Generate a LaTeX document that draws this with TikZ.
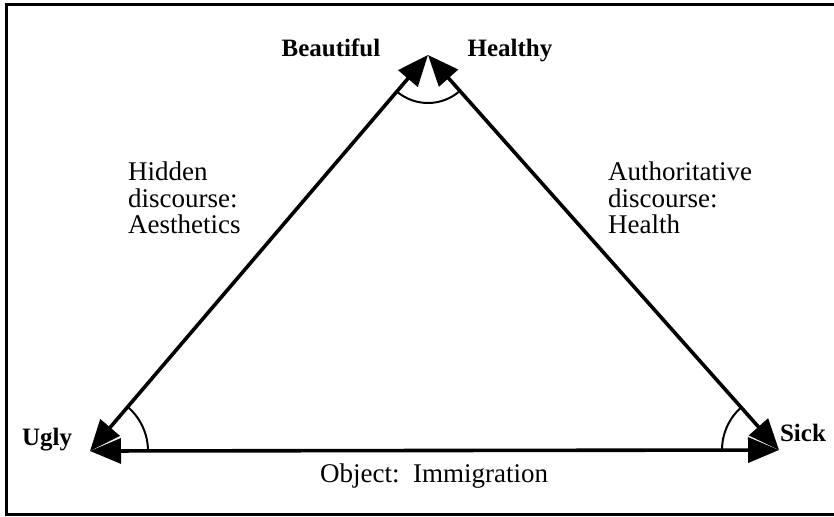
\documentclass[tikz,border=0pt]{standalone}
\usepackage{fontspec}
\setmainfont{Liberation Serif}
\usepackage{tikz}
\usetikzlibrary{arrows.meta,angles}

\begin{document}
\begin{tikzpicture}[
    x=1pt, y=-1pt,
    side/.style={line width=3.6pt, {Triangle[length=31pt,width=25pt]}-{Triangle[length=31pt,width=25pt]}},
    pole/.style={inner sep=0pt, anchor=base, font=\fontsize{25}{25}\selectfont\bfseries},
    talk/.style={inner sep=0pt, anchor=north west, align=left, font=\fontsize{27}{26.5}\selectfont},
    corner/.style={draw, line width=2pt}
]
\useasboundingbox (0,0) rectangle (834,516);
\draw[line width=3pt] (845,5) -- (6,5) -- (6,514) -- (845,514);

% the three corners
\coordinate (apex) at (428,55);
\coordinate (ugly) at (90,451);
\coordinate (sick) at (779,450);

% sides
\draw[side] (ugly) -- (apex);
\draw[side] (apex) -- (sick);
\draw[side] (ugly) -- (sick);

% angle marks
\path pic[corner, angle radius=58pt] {angle=sick--ugly--apex};
\path pic[corner, angle radius=57pt] {angle=apex--sick--ugly};
\path pic[corner, angle radius=48pt] {angle=ugly--apex--sick};

% labels
\node[pole] (beautiful) at (331,57) {Beautiful};
\node[pole] (healthy) at (510,57) {Healthy};
\node[pole] (uglylab) at (47,445) {Ugly};
\node[pole] (sicklab) at (803,441) {Sick};
\node[talk] (hidden) at (128,162) {Hidden\\discourse:\\Aesthetics};
\node[talk] (authority) at (608,162) {Authoritative\\discourse:\\Health};
\node[inner sep=0pt, anchor=base, font=\fontsize{27}{27}\selectfont] (object) at (434,482) {Object:\hspace{0.5em}Immigration};
\end{tikzpicture}
\end{document}
